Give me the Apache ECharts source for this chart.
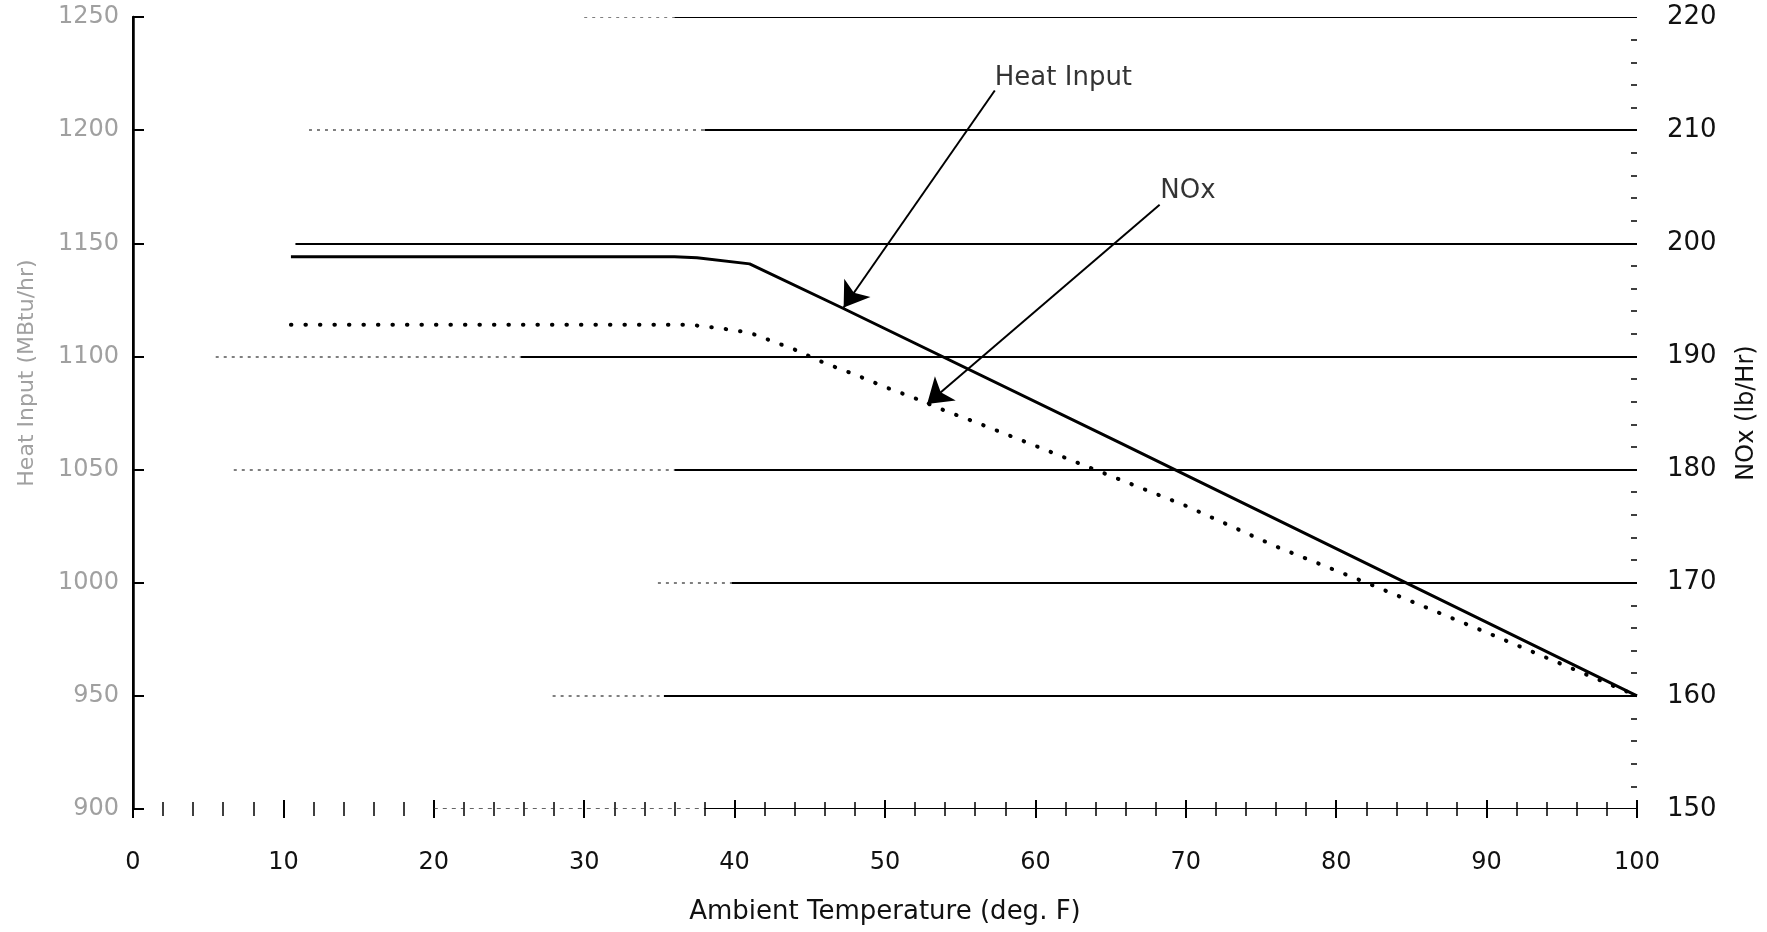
<!DOCTYPE html>
<html>
<head>
<meta charset="utf-8">
<script src="https://cdn.jsdelivr.net/npm/echarts@6/dist/echarts.min.js"></script>
<style>
html,body{margin:0;padding:0;background:#fff;}
#chart{width:1767px;height:932px;}
</style>
</head>
<body>
<div id="chart"></div>
<script>
// ---- data ----
const heatX = [10.5, 20, 30, 36, 37.5, 41, 47.2, 65.6, 100];
const heatY = [1144, 1144, 1144, 1144, 1143.6, 1140.9, 1121.3, 1061.9, 950];   // MBtu/hr (left axis)

const noxX = [10.5, 20, 30, 35, 37, 39, 41, 42, 43, 44, 46, 48, 50, 52, 54, 56, 60, 63, 70, 76, 82, 90, 100];
const noxY = [192.8, 192.8, 192.8, 192.8, 192.8, 192.5, 192.1, 191.6, 191.1, 190.6, 189.4, 188.4, 187.3, 186.3, 185.2, 184.2, 182.1, 180.5, 176.8, 173.2, 170, 165.6, 160]; // lb/Hr (right axis)

// horizontal rule lines (right-axis levels), where their faint dotted part and solid part start
const gridLevels     = [160, 170, 180, 190, 200, 210, 220];
const gridDotStart   = [27.9, 34.9, 6.7, 5.5, null, 11.7, 30.0];
const gridSolidStart = [35.3, 39.8, 36.0, 25.8, 10.8, 38.0, 36.0];
const gridEnd = 100;

// bottom axis line pieces (right axis value 150)
const baseDotStart = 20, baseSolidStart = 38;

// annotations
const heatLabel = {text: 'Heat Input', at: [57.3, 1223], from: [57.3, 1217.5], to: [47.25, 1121.6]};
const noxLabel  = {text: 'NOx', at: [68.3, 204.6], from: [68.26, 203.4], to: [52.8, 185.8]};

const xAxisName = 'Ambient Temperature (deg. F)';
const leftAxisName = 'Heat Input (MBtu/hr)';
const rightAxisName = 'NOx (lb/Hr)';

const FONT = 'DejaVu Sans';

// ---- build ----
const heatData = heatX.map((x, i) => [x, heatY[i]]);
const noxData = noxX.map((x, i) => [x, noxY[i]]);

const ruleLines = [];
gridLevels.forEach((lv, i) => {
  if (gridDotStart[i] !== null) {
    ruleLines.push({coords: [[gridDotStart[i], lv], [gridSolidStart[i], lv]],
      lineStyle: {color: '#555', width: 1.5, type: [3, 5], opacity: 1}});
  }
  ruleLines.push({coords: [[gridSolidStart[i], lv], [gridEnd, lv]],
    lineStyle: {color: '#000', width: 2, type: 'solid', opacity: 1}});
});
ruleLines.push({coords: [[baseDotStart, 150], [baseSolidStart, 150]],
  lineStyle: {color: '#333', width: 1.5, type: [4, 5], opacity: 1}});
ruleLines.push({coords: [[baseSolidStart, 150], [gridEnd, 150]],
  lineStyle: {color: '#000', width: 2, type: 'solid', opacity: 1}});

const chart = echarts.init(document.getElementById('chart'), null, {renderer: 'canvas'});
chart.setOption({
  animation: false,
  backgroundColor: '#fff',
  grid: {left: 133, right: 125, top: 17, bottom: 123, containLabel: false},
  xAxis: [
    {
      type: 'value', min: 0, max: 100, interval: 10, position: 'bottom', offset: 0,
      axisLine: {show: false},
      axisTick: {show: true, length: 9, lineStyle: {color: '#000', width: 2}},
      minorTick: {show: true, splitNumber: 5, length: 7, lineStyle: {color: '#000', width: 1.5}},
      splitLine: {show: false},
      axisLabel: {margin: 42, fontSize: 24, color: '#111', fontFamily: FONT},
      name: xAxisName, nameLocation: 'middle', nameGap: 90,
      nameTextStyle: {fontSize: 26, color: '#111', fontFamily: FONT}
    },
    {
      type: 'value', min: 0, max: 100, interval: 10, position: 'bottom', offset: 0,
      axisLine: {show: false},
      axisTick: {show: true, inside: true, length: 9, lineStyle: {color: '#000', width: 2}},
      minorTick: {show: true, splitNumber: 5, length: 7, lineStyle: {color: '#000', width: 1.5}},
      splitLine: {show: false},
      axisLabel: {show: false}
    }
  ],
  yAxis: [
    {
      type: 'value', min: 900, max: 1250, interval: 50, position: 'left',
      axisLine: {show: true, lineStyle: {color: '#000', width: 2}},
      axisTick: {show: false},
      splitLine: {show: false},
      axisLabel: {margin: 14, fontSize: 24, color: '#a0a0a0', fontFamily: FONT,
                  formatter: v => String(v)},
      name: leftAxisName, nameLocation: 'middle', nameGap: 95, nameRotate: 90,
      nameTextStyle: {fontSize: 22, color: '#a0a0a0', fontFamily: FONT, padding: [0, 0, 0, 80]}
    },
    {
      type: 'value', min: 150, max: 220, interval: 10, position: 'right',
      axisLine: {show: true, lineStyle: {color: '#000', width: 2.5}},
      axisTick: {show: true, length: 11, lineStyle: {color: '#000', width: 2}},
      splitLine: {show: false},
      axisLabel: {margin: 30, fontSize: 26, color: '#111', fontFamily: FONT},
      name: rightAxisName, nameLocation: 'middle', nameGap: 98, nameRotate: 90,
      nameTextStyle: {fontSize: 24, color: '#111', fontFamily: FONT}
    },
    {
      type: 'value', min: 150, max: 220, interval: 10, position: 'right', offset: 0,
      axisLine: {show: false},
      axisTick: {show: false, inside: true},
      minorTick: {show: true, splitNumber: 5, length: 6, lineStyle: {color: '#000', width: 1.5}},
      splitLine: {show: false},
      axisLabel: {show: false}
    }
  ],
  series: [
    {
      type: 'lines', coordinateSystem: 'cartesian2d', xAxisIndex: 0, yAxisIndex: 1,
      polyline: false, symbol: 'none', silent: true, z: 1,
      lineStyle: {opacity: 1},
      data: ruleLines
    },
    {
      name: 'NOx', type: 'line', xAxisIndex: 0, yAxisIndex: 1, data: noxData,
      showSymbol: false, symbol: 'none', smooth: false, z: 3,
      lineStyle: {color: '#000', width: 4, type: [0.5, 14], cap: 'round'}
    },
    {
      name: 'Heat Input', type: 'line', xAxisIndex: 0, yAxisIndex: 0, data: heatData,
      showSymbol: false, symbol: 'none', smooth: false, z: 4,
      lineStyle: {color: '#000', width: 3}
    },
    {
      type: 'lines', coordinateSystem: 'cartesian2d', xAxisIndex: 0, yAxisIndex: 0,
      symbol: ['none', 'arrow'], symbolSize: [0, 24], z: 5,
      lineStyle: {color: '#000', width: 2, opacity: 1},
      itemStyle: {color: '#000'},
      data: [{coords: [heatLabel.from, heatLabel.to]}]
    },
    {
      type: 'lines', coordinateSystem: 'cartesian2d', xAxisIndex: 0, yAxisIndex: 1,
      symbol: ['none', 'arrow'], symbolSize: [0, 24], z: 5,
      lineStyle: {color: '#000', width: 2, opacity: 1},
      itemStyle: {color: '#000'},
      data: [{coords: [noxLabel.from, noxLabel.to]}]
    },
    {
      type: 'scatter', xAxisIndex: 0, yAxisIndex: 0, symbolSize: 0, z: 6,
      data: [heatLabel.at],
      label: {show: true, position: 'right', distance: 0, formatter: heatLabel.text,
              fontSize: 26, color: '#000', fontFamily: FONT}
    },
    {
      type: 'scatter', xAxisIndex: 0, yAxisIndex: 1, symbolSize: 0, z: 6,
      data: [noxLabel.at],
      label: {show: true, position: 'right', distance: 0, formatter: noxLabel.text,
              fontSize: 26, color: '#000', fontFamily: FONT}
    }
  ]
});
</script>
</body>
</html>
